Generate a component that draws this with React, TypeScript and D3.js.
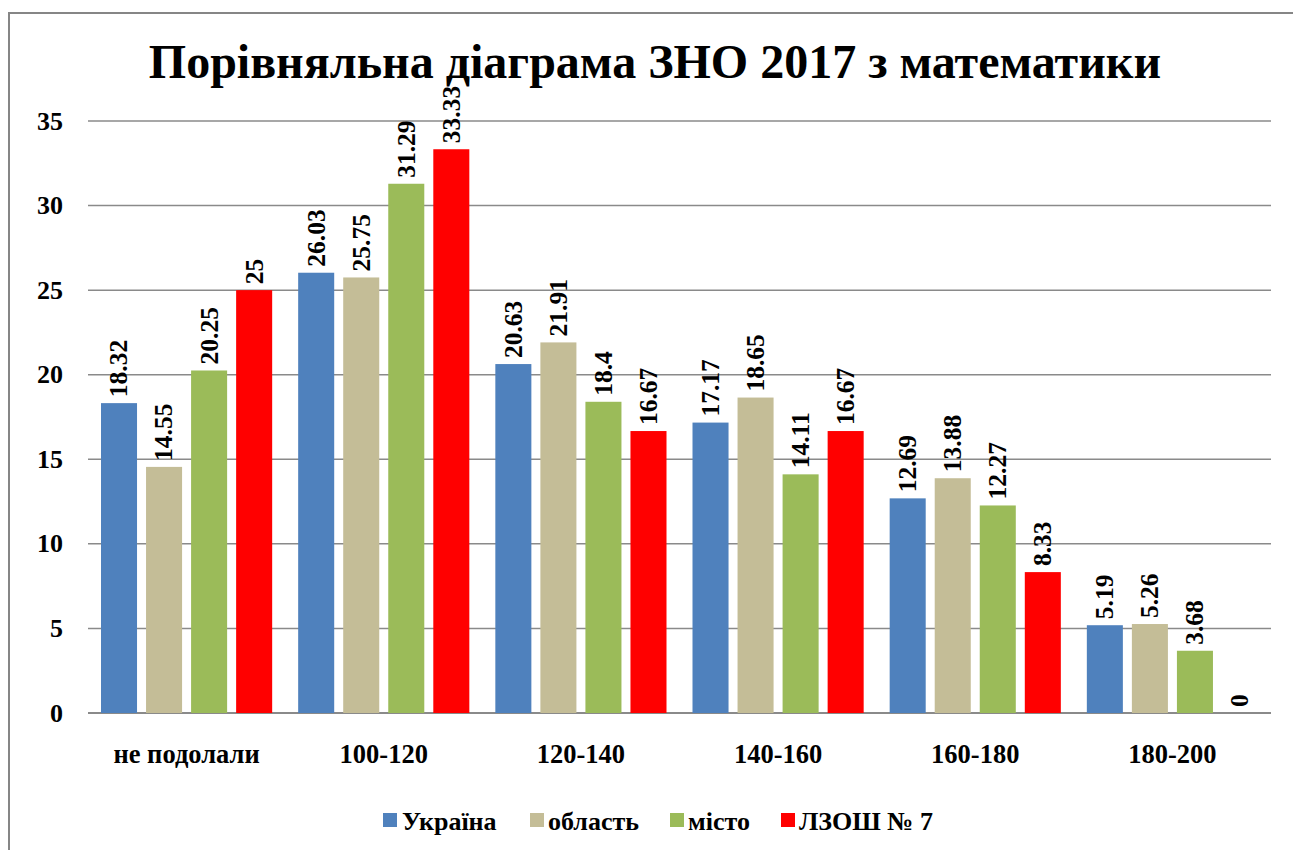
import React from "react";
import * as d3 from "d3";

const categories = ["не подолали", "100-120", "120-140", "140-160", "160-180", "180-200"];
const seriesNames = ["Україна", "область", "місто", "ЛЗОШ № 7"];
const ukraine = [18.32, 26.03, 20.63, 17.17, 12.69, 5.19];
const oblast = [14.55, 25.75, 21.91, 18.65, 13.88, 5.26];
const misto = [20.25, 31.29, 18.4, 14.11, 12.27, 3.68];
const lzosh = [25, 33.33, 16.67, 16.67, 8.33, 0];
const yTicks = [0, 5, 10, 15, 20, 25, 30, 35];
const colors = ["#4F81BD", "#C4BD97", "#9BBB59", "#FF0000"];
const title = "Порівняльна діаграма ЗНО 2017 з математики";

const seriesValues = [ukraine, oblast, misto, lzosh];

const FONT = { fontFamily: '"Liberation Serif"' };

export default function App() {
  const W = 1293, H = 850;
  const left = 88, right = 1271, top = 121, bottom = 713;
  const x = d3.scaleBand<string>().domain(categories).range([left, right]).paddingInner(0).paddingOuter(0);
  const inner = d3.scaleBand<string>().domain(seriesNames).range([13, x.bandwidth() - 13]).paddingInner(0.2);
  const y = d3.scaleLinear().domain([0, 35]).range([bottom, top]);

  const legendPos = [
    { sx: 383, tx: 402 },
    { sx: 530, tx: 548 },
    { sx: 670, tx: 688 },
    { sx: 781, tx: 799 },
  ];

  return (
    <svg width={W} height={H} style={{ position: "fixed", left: 0, top: 0, background: "#fff" }}>
      <rect x={0} y={0} width={W} height={H} fill="#fff" />
      <path d={`M9,${H} L9,13 L${W},13`} fill="none" stroke="#868686" strokeWidth={2} />
      <text x={655} y={78} textAnchor="middle" fontSize={48} fontWeight="bold" style={FONT}>{title}</text>
      {yTicks.map((t) => (
        <g key={t}>
          <line x1={left} x2={right} y1={y(t)} y2={y(t)} stroke="#8a8a8a" strokeWidth={t === 0 ? 2 : 1.5} />
          <text x={63} y={y(t)} dy="0.33em" textAnchor="end" fontSize={26} fontWeight="bold" style={FONT}>{t}</text>
        </g>
      ))}
      {categories.map((c, ci) => (
        <g key={c}>
          {seriesValues.map((vals, si) => {
            const bx = (x(c) as number) + (inner(seriesNames[si]) as number);
            const bw = inner.bandwidth();
            const v = vals[ci];
            const cx = bx + bw / 2;
            const ly = y(v) - 6;
            return (
              <g key={si}>
                {v > 0 && <rect x={bx} y={y(v)} width={bw} height={bottom - y(v)} fill={colors[si]} />}
                <text transform={`translate(${cx},${ly}) rotate(-90)`} dy="0.33em" fontSize={25.5} fontWeight="bold" style={FONT}>{v}</text>
              </g>
            );
          })}
          <text x={(x(c) as number) + x.bandwidth() / 2} y={763} textAnchor="middle" fontSize={26.5} fontWeight="bold" style={FONT}>{c}</text>
        </g>
      ))}
      {seriesNames.map((s, i) => (
        <g key={s}>
          <rect x={legendPos[i].sx} y={813} width={14} height={14} fill={colors[i]} />
          <text x={legendPos[i].tx} y={830} fontSize={26} fontWeight="bold" style={FONT}>{s}</text>
        </g>
      ))}
    </svg>
  );
}
